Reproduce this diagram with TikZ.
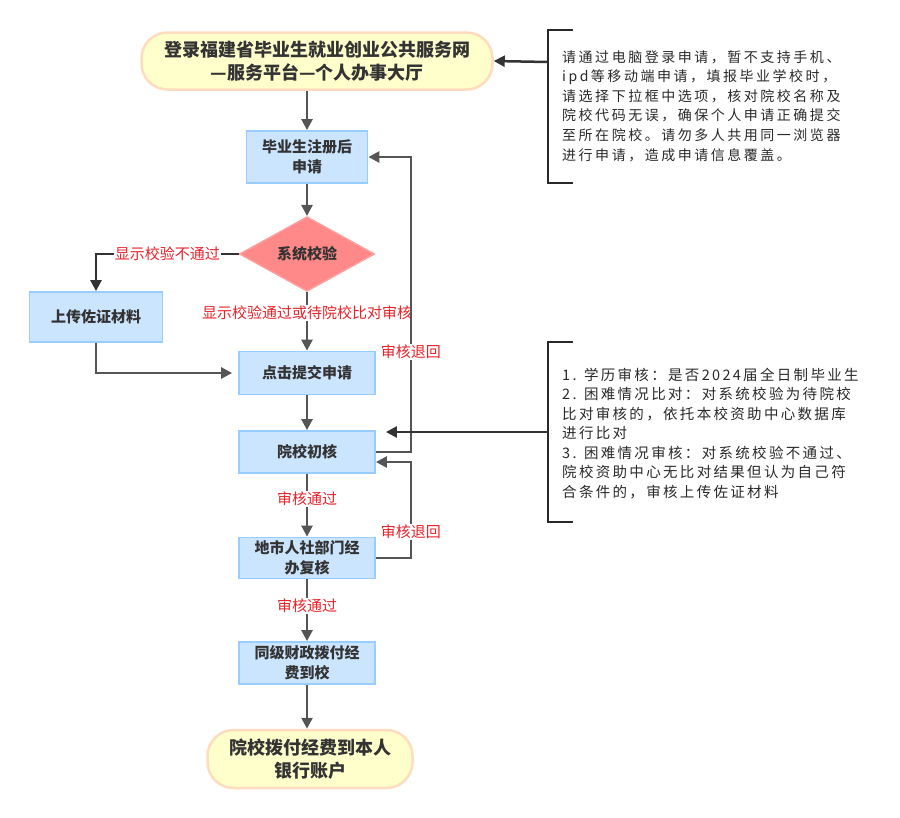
\documentclass[tikz,border=0pt]{standalone}
\usepackage{fontspec}
\setmainfont{Noto Sans CJK SC}
\usetikzlibrary{arrows.meta,shapes.geometric}

\definecolor{boxfill}{HTML}{CCE5FF}
\definecolor{boxedge}{HTML}{99CCFF}
\definecolor{pillfill}{HTML}{FFFFCC}
\definecolor{pilledge}{HTML}{FFDCBE}
\definecolor{checkfill}{HTML}{FF8888}
\definecolor{checkedge}{HTML}{FF9E9E}
\definecolor{textgray}{HTML}{333333}
\definecolor{arrowgray}{HTML}{555555}
\definecolor{labelred}{HTML}{E8232A}

\begin{document}
\begin{tikzpicture}[
  x=1pt,
  y=-1pt,
  flow box/.style={
    draw=boxedge,
    fill=boxfill,
    line width=1.8pt,
    text=textgray,
    align=center,
    inner sep=0pt,
    minimum width=136pt,
    font=\bfseries\fontsize{15}{20}\selectfont
  },
  flow pill/.style={
    draw=pilledge,
    fill=pillfill,
    line width=2.5pt,
    rounded corners=26pt,
    text=textgray,
    align=center,
    inner sep=0pt,
    font=\bfseries\fontsize{18}{23}\selectfont
  },
  flow check/.style={
    diamond,
    draw=checkedge,
    fill=checkfill,
    line width=1.5pt,
    text=textgray,
    inner sep=0pt,
    minimum width=135pt,
    minimum height=62pt,
    font=\bfseries\fontsize{15}{20}\selectfont
  },
  flow arrow/.style={
    draw=arrowgray,
    line width=2.5pt,
    -{Triangle[width=11pt,length=11pt]}
  },
  note arrow/.style={
    draw=textgray,
    line width=2.5pt,
    -{Triangle[width=11pt,length=11pt]}
  },
  flow label/.style={
    fill=white,
    text=labelred,
    inner sep=1pt,
    font=\fontsize{15}{18}\selectfont
  },
  note bracket/.style={
    draw=textgray!80!black,
    line width=2.8pt
  },
  note text/.style={
    anchor=west,
    align=left,
    inner sep=0pt,
    text=textgray!80!black
  },
]
\useasboundingbox (0,0) rectangle (900,817);

% main flow
\node[flow pill, minimum width=351pt, minimum height=57pt] (login) at (317,61)
  {登录福建省毕业生就业创业公共服务网\\—服务平台—个人办事大厅};
\node[flow box, minimum width=121pt, minimum height=52pt] (register) at (307,157)
  {毕业生注册后\\申请};
\node[flow check] (check) at (307,254) {系统校验};
\node[flow box, minimum width=133pt, minimum height=50pt] (upload) at (96,317)
  {上传佐证材料};
\node[flow box, minimum height=43pt] (submit) at (307,373) {点击提交申请};
\node[flow box, minimum height=42pt] (review) at (307,452) {院校初核};
\node[flow box, minimum height=41pt] (city) at (307,558)
  {地市人社部门经\\办复核};
\node[flow box, minimum height=42pt] (fund) at (307,663)
  {同级财政拨付经\\费到校};
\node[flow pill, minimum width=205pt, minimum height=58pt] (bank) at (310,759)
  {院校拨付经费到本人\\银行账户};

\draw[flow arrow] (register |- login.south) -- (register);
\draw[flow arrow] (register) -- (check);
\draw[note arrow] (check.west) -| node[flow label, pos=0.25] {显示校验不通过} (upload.north);
\draw[flow arrow] (check) -- node[flow label, pos=0.35] {显示校验通过或待院校比对审核} (submit);
\draw[flow arrow, shorten >=6pt] (upload.south) |- (submit.west);
\draw[flow arrow] (submit) -- (review);
\draw[flow arrow] (review.east) -- ++(35,0)
  |- node[flow label, pos=0.17] {审核退回} (register.east);
\draw[flow arrow] (review) -- node[flow label, pos=0.4] {审核通过} (city);
\draw[flow arrow] (city.east) -- ++(35,0)
  |- node[flow label, pos=0.135] {审核退回} ([yshift=-10pt]review.east);
\draw[flow arrow] (city) -- node[flow label, pos=0.43] {审核通过} (fund);
\draw[flow arrow] (fund) -- (fund |- bank.north);

% notes
\coordinate (brace top) at (548,62);
\coordinate (brace mid) at (548,432);
\draw[note bracket] (573,30) -- (548,30) -- (548,183) -- (573,183);
\draw[note bracket] (573,342) -- (548,342) -- (548,522) -- (573,522);
\draw[note arrow] (brace top) -- (login.east);
\draw[note arrow, shorten >=10pt] (brace mid) -- (brace mid -| review.east);

\node[note text, font=\fontsize{14}{19.6}\selectfont\addfontfeature{LetterSpace=18}]
  (note login) at (562,106)
  {请通过电脑登录申请，暂不支持手机、\\
   ipd等移动端申请，填报毕业学校时，\\
   请选择下拉框中选项，核对院校名称及\\
   院校代码无误，确保个人申请正确提交\\
   至所在院校。请勿多人共用同一浏览器\\
   进行申请，造成申请信息覆盖。};
\node[note text, font=\fontsize{14.5}{19.5}\selectfont\addfontfeature{LetterSpace=16}]
  (note review) at (562,433.5)
  {1. 学历审核：是否2024届全日制毕业生\\
   2. 困难情况比对：对系统校验为待院校\\
   比对审核的，依托本校资助中心数据库\\
   进行比对\\
   3. 困难情况审核：对系统校验不通过、\\
   院校资助中心无比对结果但认为自己符\\
   合条件的，审核上传佐证材料};
\end{tikzpicture}
\end{document}
